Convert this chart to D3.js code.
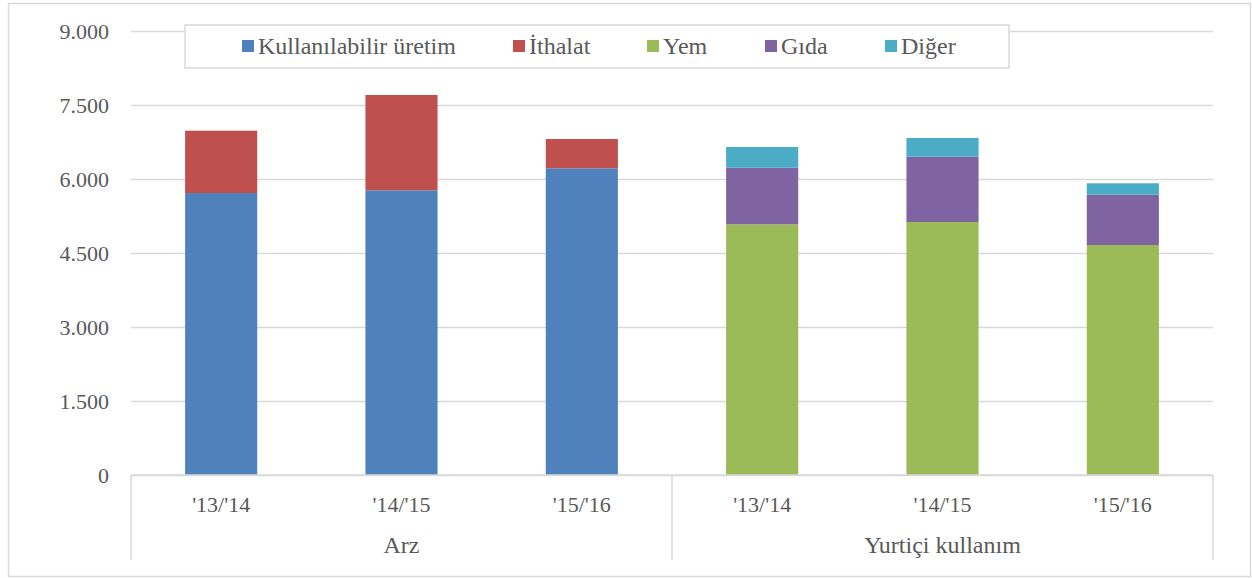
<!DOCTYPE html>
<html>
<head>
<meta charset="utf-8">
<script src="https://cdnjs.cloudflare.com/ajax/libs/d3/7.8.5/d3.min.js"></script>
<style>
    body { margin: 0; background: #fff; }
</style>
</head>
<body>
<svg id="chart" width="1252" height="578"></svg>
<script>
// Data (thousand tonnes)
const groups = ["Arz", "Yurtiçi kullanım"];
const periods = ["'13/'14", "'14/'15", "'15/'16"];
const seriesNames = ["Kullanılabilir üretim", "İthalat", "Yem", "Gıda", "Diğer"];
const seriesColors = ["#4F81BD", "#C0504D", "#9BBB59", "#8064A2", "#4BACC6"];

const kullanilabilir = [5716, 5771, 6217];
const ithalat = [1263, 1932, 594];
const yem = [5082, 5128, 4662];
const gida = [1147, 1324, 1020];
const diger = [420, 379, 231];

const yTicks = [0, 1500, 3000, 4500, 6000, 7500, 9000];

const FONT = "'Liberation Serif', 'Times New Roman', Times, 'DejaVu Serif', serif";

// build rows: one per bar
const rows = [];
periods.forEach((p, i) => {
    rows.push({ key: groups[0] + "|" + p, group: groups[0], period: p,
        "Kullanılabilir üretim": kullanilabilir[i], "İthalat": ithalat[i], "Yem": 0, "Gıda": 0, "Diğer": 0 });
});
periods.forEach((p, i) => {
    rows.push({ key: groups[1] + "|" + p, group: groups[1], period: p,
        "Kullanılabilir üretim": 0, "İthalat": 0, "Yem": yem[i], "Gıda": gida[i], "Diğer": diger[i] });
});

const svg = d3.select("#chart").attr("font-family", FONT);
const margins = { left: 131, right: 1213, top: 31, bottom: 475 };

// outer frame
svg.append("rect")
    .attr("x", 8.5).attr("y", 3.5)
    .attr("width", 1242).attr("height", 573)
    .attr("fill", "none").attr("stroke", "#d9d9d9").attr("stroke-width", 1.5);

const yScale = d3.scaleLinear().domain([0, 9000]).range([margins.bottom, margins.top]);
const xScale = d3.scaleBand().domain(rows.map((d) => d.key)).range([margins.left, margins.right]);
const groupScale = d3.scaleBand().domain(groups).range([margins.left, margins.right]);

const trFormat = d3.formatLocale({ decimal: ",", thousands: ".", grouping: [3], currency: ["", ""] }).format(",d");

// y axis with gridlines
const yAxisG = svg.append("g")
    .attr("class", "y-axis")
    .attr("transform", `translate(${margins.left},0)`)
    .call(d3.axisLeft(yScale).tickValues(yTicks).tickSize(-(margins.right - margins.left)).tickPadding(22).tickFormat(trFormat));
yAxisG.select(".domain").remove();
yAxisG.selectAll("line").attr("stroke", "#d9d9d9").attr("stroke-width", 1.5);
yAxisG.selectAll("text")
    .attr("font-size", 22)
    .attr("font-family", FONT)
    .attr("fill", "#595959")
    .attr("dy", "0.35em");

// stacked bars
const stack = d3.stack().keys(seriesNames);
const stacked = stack(rows);
const color = d3.scaleOrdinal().domain(seriesNames).range(seriesColors);
const barWidth = xScale.bandwidth() * 0.4;

svg.selectAll(".series")
    .data(stacked)
    .enter()
    .append("g")
    .attr("class", "series")
    .attr("fill", (d) => color(d.key))
    .selectAll("rect")
    .data((d) => d.filter((s) => s[1] - s[0] > 0))
    .enter()
    .append("rect")
    .attr("x", (d) => xScale(d.data.key) + (xScale.bandwidth() - barWidth) / 2)
    .attr("y", (d) => yScale(d[1]))
    .attr("width", barWidth)
    .attr("height", (d) => yScale(d[0]) - yScale(d[1]));

// category axis line
svg.append("line")
    .attr("x1", margins.left).attr("x2", margins.right)
    .attr("y1", margins.bottom).attr("y2", margins.bottom)
    .attr("stroke", "#d9d9d9").attr("stroke-width", 1.5);

// group separators
const sepX = groups.map((g) => groupScale(g)).concat([margins.right]);
svg.selectAll(".sep")
    .data(sepX)
    .enter()
    .append("line")
    .attr("class", "sep")
    .attr("x1", (d) => d).attr("x2", (d) => d)
    .attr("y1", margins.bottom).attr("y2", 560)
    .attr("stroke", "#d9d9d9").attr("stroke-width", 1.5);

// period labels
svg.selectAll(".period")
    .data(rows)
    .enter()
    .append("text")
    .attr("class", "period")
    .attr("x", (d) => xScale(d.key) + xScale.bandwidth() / 2)
    .attr("y", 512)
    .attr("text-anchor", "middle")
    .attr("font-size", 22)
    .attr("fill", "#595959")
    .text((d) => d.period);

// group labels
svg.selectAll(".group")
    .data(groups)
    .enter()
    .append("text")
    .attr("class", "group")
    .attr("x", (d) => groupScale(d) + groupScale.bandwidth() / 2)
    .attr("y", 553)
    .attr("text-anchor", "middle")
    .attr("font-size", 24)
    .attr("fill", "#595959")
    .text((d) => d);

// legend
const legend = svg.append("g").attr("class", "legend");
legend.append("rect")
    .attr("x", 185).attr("y", 25)
    .attr("width", 824).attr("height", 43)
    .attr("fill", "#fff").attr("stroke", "#d9d9d9").attr("stroke-width", 1.5);

const legendX = [242, 513, 647, 765, 885];
const items = legend.selectAll(".item")
    .data(seriesNames)
    .enter()
    .append("g")
    .attr("class", "item")
    .attr("transform", (d, i) => `translate(${legendX[i]},0)`);
items.append("rect")
    .attr("x", 0).attr("y", 40)
    .attr("width", 12).attr("height", 12)
    .attr("fill", (d) => color(d));
items.append("text")
    .attr("x", 16).attr("y", 54)
    .attr("font-size", 24)
    .attr("fill", "#595959")
    .text((d) => d);
</script>
</body>
</html>
